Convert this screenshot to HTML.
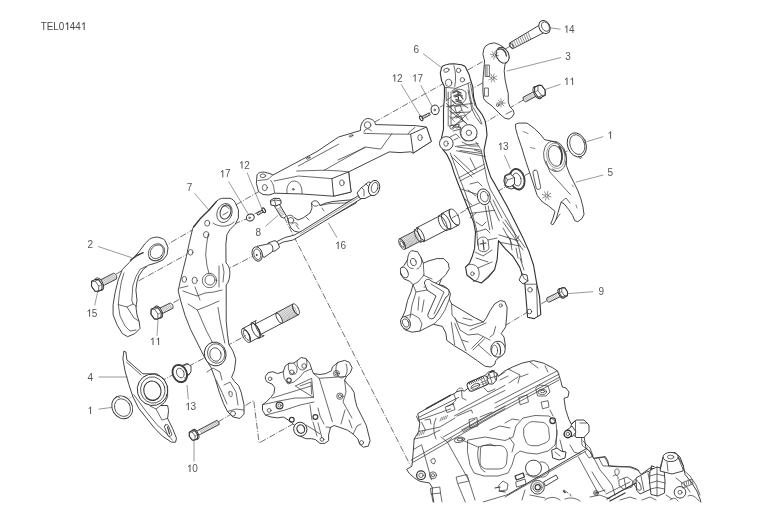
<!DOCTYPE html>
<html><head><meta charset="utf-8"><style>
html,body{margin:0;padding:0;background:#fff;width:776px;height:530px;overflow:hidden}
svg{position:absolute;left:0;top:0;filter:grayscale(1)}
.l{fill:none;stroke:#3a3a3a;stroke-width:.75;stroke-linejoin:round;stroke-linecap:round}
.f{fill:#fff;stroke:#303030;stroke-width:.9;stroke-linejoin:round}
.k{fill:#333;stroke:none}
.d{fill:none;stroke:#333;stroke-width:.7;stroke-dasharray:6.5 1.6 1 1.6}
text{opacity:.999}
.t{font-family:"Liberation Sans",sans-serif;font-size:10px;fill:#555}
.tt{font-family:"Liberation Sans",sans-serif;font-size:10.6px;fill:#4a4a4a}
.lead{fill:none;stroke:#555;stroke-width:.6}
</style></head><body>
<svg width="776" height="530" viewBox="0 0 776 530">
<g transform="translate(41.2,0) scale(0.93,1)"><text class="tt" x="-0.4" y="30">T</text><text class="tt" x="6.1" y="30">E</text><text class="tt" x="13.1" y="30">L</text><text class="tt" x="19" y="30">0</text><path d="M28.5,22.3 L28.5,30 M28.7,22.6 L26.4,24.4" style="fill:none;stroke:#4a4a4a;stroke-width:1.1"/><text class="tt" x="30.8" y="30">4</text><text class="tt" x="36.7" y="30">4</text><path d="M46.2,22.3 L46.2,30 M46.4,22.6 L44.1,24.4" style="fill:none;stroke:#4a4a4a;stroke-width:1.1"/></g>
<g id="dash" class="d">
<path d="M115.5,274.4 L265,188"/>
<path d="M138.7,280.8 L190.6,252.3"/>
<path d="M185,291 L257,254"/>
<path d="M173.4,302.7 L197.6,289 L210,282"/>
<path d="M113,407 L246,335.5"/>
<path d="M218,422 L253.7,400.5 L259.1,443 L335,400.5 L340,396.5"/>
<path d="M284,217 L410.4,465.5"/>
<path d="M234,224.1 L249.5,217.7 M254.6,213.8 L261,210.5"/>
<path d="M510.6,46 L367.6,126"/>
<path d="M492,77.5 L421,118"/>
<path d="M523.4,100 L469,131.7"/>
<path d="M586,140 L452,218"/>
<path d="M547,300.5 L506,325"/>
</g>

<g id="frame">
<path class="f" d="M257,175 C258,172.5 262,171.5 266,172.5 L271,174 L273,175 L317,151.5 L338.6,137 L360.5,130.5 C360,126 362.5,119 367.5,118.5 C372.5,118.3 375.5,122 375.4,124.6 L415,125.6 L426.4,127 L431.3,141.5 L413.2,153.1 L410.6,151.8 L400,152.6 L389.2,151.9 L348.6,171.9 L351.1,192 L333.6,196.2 L302,194 L274.5,193.2 L269,195 L263,194.5 L258.5,191.5 L256.4,183.5 Z"/>
<ellipse class="l" cx="262.9" cy="175.8" rx="2.8" ry="1.8"/>
<path class="l" d="M272.6,175.1 L269.3,178.4 L266.8,179.6 L258,180.5"/>
<path class="l" d="M270.6,180.3 C273,183 273.8,186 274.5,192.5"/>
<ellipse class="l" cx="264.8" cy="187.6" rx="2.5" ry="3.1"/>
<path class="l" d="M287,193 C286,186 289.5,181 294.5,181 C299.5,181.3 302.5,187 302,193.5"/>
<circle class="l" cx="293.2" cy="189.3" r="0.9"/>
<path class="f" d="M331.9,178.6 L348.6,171.9 L351.1,192 L333.6,196.2 Z"/>
<ellipse class="l" cx="341.9" cy="182.8" rx="2.3" ry="3"/>
<path class="l" d="M298.4,166 L338.6,144.2"/>
<path class="l" d="M324,170.4 L365.1,147 L380.7,149.1 L392,133.5"/>
<path class="l" d="M338,160 L365.1,147.6"/>
<path class="l" d="M296.7,171 L325.2,170.2 L340.3,171 L348.6,171.9"/>
<path class="l" d="M274,181 L298.4,176 L331.9,178.6"/>
<ellipse class="l" cx="308.3" cy="158" rx="1.9" ry="0.8" transform="rotate(-25 308.3 158)"/>
<ellipse class="l" cx="351.1" cy="135.9" rx="2" ry="0.8" transform="rotate(-20 351.1 135.9)"/>
<path class="l" d="M364,133.4 L392.4,134.1 L410.6,134.2"/>
<circle class="l" cx="367.6" cy="125" r="3.3"/>
<path class="l" d="M364,132 C364.5,128.5 369,127.5 371.5,131"/>
<path class="f" d="M410.6,134.2 L426.4,127 L431.3,141.5 L413.2,153.1 Z"/>
<ellipse class="l" cx="420" cy="137.6" rx="2.2" ry="3"/>
<path class="l" d="M408,134 L410.5,131 L415,127.4"/>
</g>

<clipPath id="clipE"><rect x="0" y="0" width="776" height="502.4"/></clipPath>
<g id="engine" clip-path="url(#clipE)">
<path class="f" d="M406.6,469.3 L411.9,466.3 L412.7,458 L413.4,449.6 L414.2,439 L418.7,431.5 L419.8,423 L417.7,413.7 L450.3,395.3 L453.8,393.9 L456.6,391.8 L461.6,390.4 L464.4,391.1 L467.2,389 L476,380 L484.2,376.2 L488.5,372 L492.7,371.3 L496.9,373.4 L498.4,376.2 L504.6,371 L512.6,367 L522.3,363 L533.5,360.6 L543.1,363 L552.7,367.8 L557.5,371 L559.1,375.8 L560.7,380.7 L562.4,387.1 L566,388 L569,392 L568,397 L564,398.3 L565.6,409.5 L568.8,419.1 L571.2,424 L575,421 L584,421.5 L588,426 L588,433 L584,436 L586,448.3 L590,451.5 L593.4,458.3 L598.5,457.5 L605.3,456.6 L607.8,460.9 L608.7,466 L617.2,466.8 L630.8,466.8 L637.6,469.4 L641,474.5 L650,468 L660,470 L663,461 L668,453 L675,452.5 L680,457 L683.4,466 L685.1,474.5 L691.9,483 L697,491.4 L700.4,500 L702,510 L433.8,510 L433.8,502.5 L432.3,493.4 L432.3,487.4 L429.3,482.9 L420.2,481.4 L414.9,478.3 L409.6,473.8 Z"/>
<!-- valve cover region -->
<path class="l" style="stroke-width:1.4" d="M426.2,408.7 L450.3,395.3"/>
<path class="l" d="M419.1,417.2 L458.7,397.4 M458.7,410.2 L505,385.4 M454.5,415.8 L505,390.4 M461.6,430 L505,405.9 M463,432 L505,408.5"/>
<path class="l" d="M495,403.1 L557,371 M495,407.9 L559.1,374.2 M495,411.9 L559.1,377.5"/>
<path class="l" d="M411.1,460.2 L495,412 M412.7,462.5 L495,415 M495,415 L559,380"/>
<path class="l" d="M416.4,416.1 L418.5,421.3 M418.5,420.3 L450.6,408.9 M445.5,407 L453,403.5 L455,409.5 L447.5,412.5 Z M447,406.5 L454,403.8"/>
<path class="l" d="M421.6,422.3 L425.7,430.6 M425,420 L430,419 L431,424 M436.1,418.2 C433,424 433,433 436.1,439 M443.4,436.9 L475,419.2 M456.9,416.1 L471.4,409.9 L472.5,413"/>
<path class="l" style="stroke-width:.6" d="M440,421 L441.5,417.5 M442,420.3 L443.5,416.8 M444,419.6 L445.5,416.1 M446,418.9 L447.5,415.4 M417.5,436 L418.5,433 M419.5,435.3 L420.5,432.3 M421.5,434.6 L422.5,431.6 M423.5,433.9 L424.5,430.9"/>
<path class="l" d="M418.7,431.5 L440,427 L455,418 M414.2,439 L428,436 L440,430 M413.4,449.6 L421,445"/>
<path class="l" d="M453.8,393.9 L456,400 L452,404 M461.6,390.4 L462,398 L466,400 M456.6,391.8 C457,388 461,387 463,389"/>
<rect class="f" style="stroke-width:1" x="467.0" y="378.8" width="22" height="9.4" rx="3.5" transform="rotate(-24 478.0 383.5)"/>
<path class="l" style="stroke-width:.9;stroke:#222" d="M468.8,382.6 L469.9,384.3 M470.6,381.8 L471.6,383.5 M472.3,381.0 L473.4,382.7 M474.0,380.2 L475.1,381.9 M475.8,379.5 L476.9,381.2 M477.5,378.7 L478.6,380.4 M479.2,377.9 L480.3,379.6 M481.0,377.1 L482.1,378.8 M482.7,376.4 L483.8,378.1"/>
<ellipse class="l" cx="475.4" cy="386.3" rx="4.8" ry="2.3" transform="rotate(-24 475.4 386.3)"/>
<path class="l" d="M472.2,387.7 L478.6,384.9"/>
<path class="l" style="stroke-width:.6" d="M481.1,379.4 L483.9,385.6 M483.8,378.2 L486.6,384.4 M480.9,382.7 L487.8,379.7 M481.8,384.6 L488.6,381.5"/>
<path class="f" style="stroke-width:.9" d="M487,379 L489,373 L493.5,371.5 L497,373.5 L496.5,380 L493,384 L489,384 Z"/>
<path class="l" d="M489.5,374.5 L492,383 M493.5,371.5 L495.5,380 M488,378.5 L497,376"/>
<path class="l" style="stroke-width:1.1" d="M490.5,372 L492,370.5 L494.5,371"/>
<path class="l" d="M484.2,388 L488,392 L495,389 M498.4,376.2 L505,372"/>
<path class="l" d="M508.3,369.1 L520,375 L518,383 M530,362 L538,368 M520,377 L528,374 M545,366 L548,372"/>
<path class="l" d="M509,383 L518,377 M500,380 L508,376"/>
<!-- head region -->
<path class="l" d="M421.7,445.1 L431.5,479.8 M447.4,442.1 L468.5,479.8 M441,437 L447.4,442.1 L452,438"/>
<path class="l" d="M462,440 L478,447 L490,444 L495,446 M478.6,447.3 C476,455 479,470 485,472"/>
<ellipse class="l" cx="459.5" cy="439.8" rx="5.2" ry="2.6" transform="rotate(-10 459.5 439.8)"/>
<ellipse class="l" cx="460" cy="439.5" rx="3" ry="1.3" transform="rotate(-10 460 439.5)"/>
<circle class="l" style="stroke-width:1.3" cx="421" cy="475.3" r="4.4"/>
<circle class="l" cx="421" cy="475.3" r="2.2"/>
<circle class="l" cx="433" cy="475.3" r="3.5"/>
<circle class="l" cx="433" cy="475.3" r="1.6"/>
<path class="l" d="M431,460 L434,458 L435.5,461 L434,464 L432,463 Z"/>
<path class="l" d="M430.8,488.2 L439.8,487 L440.5,493 L431.5,494 Z M431.5,494 L433,502 M440.5,493 L442,502"/>
<path class="l" d="M456.5,477 L467,474.5 L469,481 L458,483.5 Z M458,484.4 L465.5,502.5 M469,481 L475,500"/>
<path class="l" d="M469,420 L470,428 L478,426 L477,418 Z M480,417 L492,412"/>
<!-- ports -->
<path class="l" d="M480.6,448 C481,446 483,445 486,445.5 L500,445.5 C505,446 507.5,450 507.3,455 L506.5,463 C505.5,467.5 502,469 498,469 L487,469 C483,469 480,466 480,462 Z"/>
<path class="l" d="M523.9,428 C527,423 530,421.6 533.5,421.6 L543.1,422.4 C547,424 548.7,427 548.7,429.6 L549.5,437.6 C549,440 548,441.5 546.3,442.5 L538.3,445.7 L531.9,445.7 C528,445 526.5,443.5 526.3,442.5 L523.9,436 Z"/>
<path class="l" d="M468,440 L485,437 L505,440.5 L513,437 L516,426 L523,418 L535,415.5 L549,416 L556,422 L557,434 L555,445 L548,451 L537,454 L527,453 L520,451 L515,455 L512,465 L508,473 L498,476 L484,476 L474,473 L470,465 L467.5,452 Z"/>
<path class="l" d="M509.4,437.6 L514.2,444.1 L512,452 M505,423 L512,419 L519,420 M490,430 L500,426 L510,428"/>
<path class="l" d="M519,397.5 L527,395 L528.5,402 L520.5,404.7 Z M541.5,402 L548,400.7 L549,407 L543,408.7 Z"/>
<ellipse class="l" cx="542.3" cy="391.9" rx="4.3" ry="2.6"/>
<ellipse class="l" cx="542.5" cy="391.5" rx="2.3" ry="1.2"/>
<path class="l" d="M536,388 L540,385 L548,386 L550,392 L546,396 L538,396 Z"/>
<circle class="l" style="stroke-width:1.3" cx="552.7" cy="420.7" r="2.8"/>
<path class="l" d="M550,410 L553,416 M557,430 L556,448 M560,440 L563,452"/>
<!-- hex plug -->
<path class="f" d="M571,425 L576,420 L584,420 L589,425 L589,432 L584,437.5 L576,437.5 L571,432 Z"/>
<path class="l" d="M575.5,421 L575.5,436.5 M580,423 L587,423"/>
<path class="f" d="M566,431 L572,426 L576,432 L572,437 Z"/>
<circle class="f" style="stroke-width:1.4" cx="567.8" cy="434" r="3.7"/>
<circle class="l" cx="567.8" cy="434" r="1.7"/>
<path class="l" d="M581.6,438 L582,445 L586.4,448.9 M583,441 L590,448 L593,456 L589,458 L585,452"/>
<path class="l" d="M578.4,456.9 L597.6,492.2 M570,445 L574,452 L580,454"/>
<!-- lower middle -->
<path class="l" style="stroke-width:1" d="M507.8,494.6 L587.2,448.1"/>
<path class="l" d="M505,497 L586,451 M483,502 L507.8,494.6"/>
<circle class="f" cx="533.5" cy="468.1" r="8"/>
<path class="l" d="M540,462 C545,461 549,465 549,470 C549,475 545,478 541,477"/>
<path class="l" d="M526,474 L532,477 L540,477"/>
<circle class="f" cx="537.5" cy="487.3" r="6.8"/>
<circle class="l" cx="537.5" cy="487.3" r="4.6"/>
<circle class="l" style="stroke-width:1.2" cx="537.7" cy="487.2" r="2.6"/>
<path class="f" d="M543.5,482 L556,475 L558,478.5 L545.5,486 Z"/>
<path class="l" d="M530,495 L545,498 M525,490 L522,500"/>
<path class="l" style="stroke-width:1.3" d="M515,476 L523,473 L524.5,477 L516.5,480 Z"/>
<path class="l" d="M516,482 L525,479 L526,484 L517,487 Z"/>
<path class="l" style="stroke-width:1" d="M552,450 L557,448 L561,451 L566,452 L565,458 L559,460 L553,458 Z"/>
<path class="l" d="M555,452 L560,456 M499,485 L503,481 L508,484 L507,490 L500,491 Z"/>
<path class="l" style="stroke-width:1.2" d="M495,488 L500,487 M499,491 L505,492"/>
<path class="l" d="M564,490 L568,493 M570,494 L571,496"/>
<path class="l" style="stroke-width:1.5" d="M563.5,491 L565,492.5"/>
<circle class="l" cx="596" cy="493" r="2.4"/>
<path class="l" d="M545,500 C550,496 556,497 560,500 M565,499 C570,497 576,498 580,501 M590,497 L600,495 L610,499"/>
<!-- lower right -->
<path class="l" d="M590,451.5 L596,462 L600,470 L606,477 L612,485 L615,495 M598.5,457.5 L603,466 L608.7,466"/>
<path class="l" d="M615,470 C617,468 620,469 619,473 C618,476 615,476 615,473 Z M613,476 C615,474 619,475 618,479"/>
<path class="l" d="M594.7,458.5 L604.5,457.2 L609.4,465.8 L629,467 L638.8,470.7 M606,494 L620,487 L630,482 M592,472 L600,485 L605,492"/>
<path class="l" d="M619.2,480 L627,477 L632.7,481 L632,487 L624,489.5 L619.5,486 Z M624,478 L626,488"/>
<path class="l" style="stroke-width:1.4" d="M607,499 L623,490 L636,483 M610,501 L625,493"/>
<circle class="l" cx="596" cy="493" r="1.2"/>
<path class="l" d="M596,493 L605,490"/>
<path class="f" d="M636,478 L648,471 L653,476 L655,484 L651,489 L640,494 L636.5,490 Z"/>
<ellipse class="l" cx="637.5" cy="485" rx="2.6" ry="6" transform="rotate(-30 637.5 485)"/>
<path class="l" d="M641,476 L644,491 M648,473 L651,488"/>
<path class="f" d="M650,470 L657,467 L664,469 L665,481 L664.5,493 L658,496 L651,494.5 L649.5,482 Z"/>
<path class="l" d="M650,476 L657,474 L664.5,476 M650,483 L657,481 L665,483 M650.5,489 L657,487.5 L664.5,489 M657,467 L657,496"/>
<path class="l" style="stroke-width:1.2" d="M651,470 L651.5,466 L654,466.5"/>
<path class="f" d="M663,457 L678.3,457 L683.4,466 L683,471 L672,474 L660,471 Z"/>
<ellipse class="f" cx="670.6" cy="457" rx="7.6" ry="4.6"/>
<ellipse class="l" cx="670.6" cy="457" rx="3.2" ry="1.9"/>
<path class="l" d="M663,458 L660,468 M678.3,458 L683,469 M667,462 L668,471"/>
<path class="l" d="M683.4,470 L690,476 L696,485 L700,495 M676,478 L686,486 L690,492"/>
<circle class="f" cx="680" cy="492.3" r="5.8"/>
<circle class="l" cx="680" cy="492.3" r="2"/>
<path class="l" style="stroke-width:.6" d="M681.7,483 L691.9,479 L693,484 L683,488 Z M684,482 L685,487 M686,481 L687,486 M688,480 L689,485 M690,479.5 L691,484.5"/>
<path class="l" d="M666,495 L672,499 M670,500 C673,497 676,498 678,501 M688,496 C692,494 696,497 699,501"/>
<path class="l" d="M642,500 L650,497 L656,500 M620,500 L630,497 L636,499"/>
</g>

<g id="p6">
<path class="f" style="stroke-width:1.1" d="M441.6,67.5 C443,65 447,64 453.9,63.8 L461.4,64.7 C464,65.5 466,67 466.1,68.5 L469,74.2 L470.8,80.8 L472.7,86.4 L473.7,97.7 L476.5,107.2 L482.2,114.7 L485,120.4 L486.3,127.5 L487,135.1 L485.5,142.6 L484,150.2 L484.8,157.7 L487.8,168.3 L490.8,177.3 L495.3,184.9 L500.3,194.1 L507.9,207.7 L515.4,222.8 L523,237.9 L529,251.5 L533.5,265 L536.8,284.2 L539.5,296.1 L540.8,314.6 L534.2,318.6 L527.6,317.2 L524.9,284.2 L522.3,275 L519.7,267.1 L513.1,256.5 L505.1,248.6 L498.5,240.7 L497.2,259.2 L494.6,269.7 L488,277.6 L481.4,282.9 L473.5,280.3 L466.9,275 L465.6,267.1 L469.5,263.1 L472.2,256.5 L474.6,248.4 L475.5,232 L473.7,222.4 L467.6,207.3 L461.6,192.2 L457.5,182 L454,172.6 L451,163 L447,154.7 L443.3,150.2 L440.3,144.1 L441.8,136.6 L443.5,129 L443.5,120.4 L443.5,109.1 L444.4,97.7 L444.4,86.4 L441.6,80.8 L440.3,73.2 Z"/>
<!-- top lobes -->
<path class="l" d="M453.9,65.7 C456,72 456,80 454.8,86.4"/>
<path class="l" d="M445.4,87.4 L455.8,88.3 L469.9,82.6"/>
<ellipse class="l" cx="448.6" cy="82.8" rx="3.3" ry="3.6"/>
<ellipse class="l" cx="446.4" cy="70.2" rx="2.8" ry="1.9" transform="rotate(-20 446.4 70.2)"/>
<circle class="l" cx="458.6" cy="70.4" r="2.2"/>
<circle class="l" cx="462.4" cy="79.8" r="2.2"/>
<!-- upper truss -->
<path class="l" d="M448.2,92 L448.2,126 M451,92 L451,124 M468,90.2 L471.8,109 L475.6,116.6 L481,124"/>
<path class="l" d="M446.3,103.4 L467.1,124.2 M472.7,109 L452,127.9 M451,113 L470,112"/>
<path class="l" style="stroke-width:1.2" d="M453,93 L457,91 L461,93 M455,97 L460,95 L463,99 M456,101 L462,103 M458,92 L458.5,100"/>
<path class="l" d="M452,91 L455,89 L462,89.5 L466,92 L466,99 L462,104 L456,104 L452,100 M451,97 L446,101 M462,104 L468,108 M454,104 L449,108"/>
<path class="l" d="M455,107 L460,105 L462,110 L457,113 Z M456,118 L461,116 L463,121 L458,123"/>
<path class="l" d="M468,83.4 L470.2,96.3 L472.4,106.4 L476,112.1 L479.5,117.8 L482,124"/>
<path class="l" style="stroke:#666;stroke-width:1.6" d="M453,92 L457,90.5 M454,96 L459,94 L462,96 M456,99.5 L461,101 M452.5,101 L455,103"/>
<path class="l" d="M446.6,106.4 L472.4,103.5 M449.5,110.7 L466.7,123.5 M452.3,119.2 L460.9,112.1"/>
<path class="l" d="M460.5,127 C459,133 461,139 466,141.5 M472,141 L477,137"/>
<circle class="l" cx="452" cy="127" r="2.2"/>
<circle class="l" cx="457" cy="126" r="2"/>
<path class="l" d="M455.2,146.5 L478.1,143.6 M456.6,150.8 L485.3,156.5 M450,137 L456,134 L460,138"/>
<circle class="f" cx="468.9" cy="132.8" r="8.2"/>
<circle class="l" cx="468.9" cy="132.8" r="2.7"/>
<path class="l" d="M461,128 L456,126 M458,138 L454,140"/>
<circle class="f" cx="446.3" cy="143.4" r="6.8"/>
<ellipse class="l" cx="446" cy="143.6" rx="2.2" ry="2.7"/>
<!-- middle truss -->
<path class="l" d="M450.3,153 L458.6,175.6 L466.1,195.2 L472.1,213.3 L476.7,230"/>
<path class="l" d="M481.2,150 L484.2,165.1 L487.2,180.2 L490.2,189.2 L496.3,199.8 L502.3,210.3 L508.3,220.9 L514,232"/>
<path class="l" d="M458.6,177.9 L484.2,164.3 M460,181 L485,168"/>
<path class="l" d="M451,156 L472.1,177.1 M454,155 L474,174"/>
<path class="l" d="M461.6,189.2 L479.7,195.2 M466.1,208.8 L479.7,202.8 M470.6,213.3 L494.8,210.3 M490.2,201.3 L499.3,220.9 M493,200 L502,218"/>
<path class="l" d="M457.6,147.1 L481,150 M460,150.5 L481.5,153.5"/>
<path class="l" d="M476,142 L480,148 M470,158 L476,170"/>
<path class="l" d="M446,88 L446.3,100 M470.5,84 L473,98 L475,106"/>
<path class="l" style="stroke:#555;stroke-width:.6" d="M452,106 L466,106 M450,118 L466,115 M462,110 L468,120 M455,122 L449,116"/>
<path class="l" d="M449.5,126 L459.5,124 M453,131 L461,129 M462,142 L470,146 L478,146"/>
<path class="l" d="M474.5,150 L481,152 M470,184 L478,182 L482,186 M468,190 L476,196"/>
<path class="l" d="M465,199 L472,205 M470,218 L476,213 M503,228 L508,237 M508,236 L512,244 M516,240 L519,236"/>
<!-- ring -->
<ellipse class="f" cx="483.8" cy="196.8" rx="6.3" ry="8" transform="rotate(-15 483.8 196.8)"/>
<ellipse class="l" cx="484.3" cy="196.6" rx="3.9" ry="5.3" transform="rotate(-15 484.3 196.6)"/>
<!-- lower arms -->
<path class="l" d="M476.7,230 L477.7,245.4 M514,232 L518.4,245 L522,262"/>
<path class="l" d="M503,222 L523,250 M505,220 L525,247.5"/>
<path class="l" d="M498.8,234.8 L518.4,240.9 M500.3,242.4 L520,246"/>
<path class="l" d="M485.2,206.1 L489.7,230 M488.2,206 L492.5,229"/>
<path class="l" d="M476,222 L482,226 L486,222"/>
<path class="l" d="M478,240 C480,236 486,236 488,240 L489,248 C488,252 482,253 479,250 Z"/>
<path class="l" style="stroke-width:1.1" d="M480,244 L486,243 M483,240 L484,250"/>
<path class="l" d="M488,240 L497,238 M476,232 L486,229 L490,233"/>
<path class="l" d="M475,252 L483,256 L492,250 M476,258 L488,262"/>
<path class="l" d="M510,238 L512,250 M516,248 L518,258 M520,258 L524,270"/>
<path class="l" d="M465.6,267.1 C468,263 475,263.5 478,268 C480.5,273 479,281 473.5,281.5"/>
<circle class="l" cx="472.4" cy="273.7" r="1.8"/>
<path class="l" d="M478,268 L492,262 M481.4,282.9 L494.6,269.7"/>
<path class="l" d="M524.9,284.2 L536.8,284.2"/>
<path class="f" d="M519,280 L522,274 L527,275 L528,281 L523,284 Z"/>
<path class="l" d="M522,274 L524.5,279 L528,281"/>
<circle class="l" cx="530" cy="289.8" r="2.3"/>
<circle class="l" cx="529.4" cy="311.5" r="2.3"/>
<path class="l" d="M536.6,286 L537.5,316"/>
</g>

<g id="p3">
<path class="f" d="M485.4,46.2 L489.5,43.7 L494.4,42.9 L499.3,44.6 L504.2,47.8 L508.3,52.8 L509.1,57.7 L507.5,61.8 L505,64.2 L504.2,70.8 L505,79 L506.7,87.2 L508.3,93.7 L508.3,101.9 L510,106.9 L513.2,110.1 L514.1,113.4 L512.4,116.7 L509.1,119.1 L505,118.3 L501,115 L496,110.1 L491.1,105.2 L486.2,101.9 L483.7,98.7 L482.9,92.1 L482.9,80.6 L483.7,70.8 L484.6,61 L482.9,54.4 L483.7,49.5 Z"/>
<ellipse class="f" cx="502.6" cy="55.2" rx="6" ry="8.3" transform="rotate(-25 502.6 55.2)"/>
<path class="l" style="stroke-width:1.3" d="M498,49.5 C502,47.5 506,51 506.5,56"/>
<rect class="l" x="485.6" y="65" width="3.8" height="11.5"/>
<path class="l" d="M487,66 L487,76"/>
<rect class="l" x="484.8" y="88" width="3.6" height="8.2"/>
<circle class="l" style="stroke-width:.6" cx="494.5" cy="55.0" r="1.2"/><path class="l" style="stroke-width:.55" d="M496.3,55.3 L498.6,55.7 M495.5,56.5 L496.9,58.4 M494.2,56.8 L493.8,59.1 M493.0,56.0 L491.1,57.4 M492.7,54.7 L490.4,54.3 M493.5,53.5 L492.1,51.6 M494.8,53.2 L495.2,50.9 M496.0,54.0 L497.9,52.6"/>
<circle class="l" style="stroke-width:.6" cx="492.8" cy="78.0" r="1.3"/><path class="l" style="stroke-width:.55" d="M494.6,78.6 L496.9,79.5 M493.6,79.7 L494.7,82.0 M492.2,79.8 L491.3,82.1 M491.1,78.8 L488.8,79.9 M491.0,77.4 L488.7,76.5 M492.0,76.3 L490.9,74.0 M493.4,76.2 L494.3,73.9 M494.5,77.2 L496.8,76.1"/>
<circle class="l" style="stroke-width:.6" cx="501.0" cy="103.0" r="1.2"/><path class="l" style="stroke-width:.55" d="M502.8,103.0 L505.2,103.0 M502.3,104.3 L504.0,106.0 M501.0,104.8 L501.0,107.2 M499.7,104.3 L498.0,106.0 M499.2,103.0 L496.8,103.0 M499.7,101.7 L498.0,100.0 M501.0,101.2 L501.0,98.8 M502.3,101.7 L504.0,100.0"/>
<circle class="l" cx="497.7" cy="105.2" r="1.3"/>
<path class="l" d="M506,114 L512,111"/>
</g>
<g id="b14">
<path class="f" d="M538.8,25.5 L509.8,42.9 Q509,46.5 512.7,48.7 L543.6,32.8 Z"/>
<path class="l" style="stroke-width:.55" d="M512,42 L514.5,47.4 M514,40.8 L516.5,46.3 M516,39.6 L518.5,45.2 M518,38.4 L520.5,44.1 M520,37.2 L522.5,43 M522,36 L524.5,41.9 M524,34.8 L526.5,40.8 M526,33.6 L528.5,39.7 M528,32.4 L530.5,38.6"/>
<ellipse class="l" cx="511.3" cy="45.8" rx="1.5" ry="2.9" transform="rotate(-30 511.3 45.8)"/>
<ellipse class="f" cx="544.5" cy="27" rx="5.3" ry="6.9" transform="rotate(-30 544.5 27)"/>
<ellipse class="l" cx="545.5" cy="26.6" rx="3.6" ry="5" transform="rotate(-30 545.5 26.6)"/>
</g>
<path class="f" d="M536.6,90.1 L523.1,97.3 Q522.3,100.7 525.5,101.9 L539.1,94.7 Z"/>
<path class="l" style="stroke-width:.45;stroke:#555" d="M531,93.3 L534.3,97 M529.9,93.9 L533.2,97.6 M528.7,94.5 L532.1,98.2 M527.6,95.1 L531,98.8 M526.5,95.7 L529.8,99.4 M525.4,96.3 L528.7,100 M524.3,96.9 L527.6,100.6 M523.2,97.5 L526.5,101.1"/>
<ellipse class="f" cx="537.4" cy="92.6" rx="3.6" ry="6.7" transform="rotate(151.9 537.4 92.6)"/>
<path class="f" style="stroke-width:1.05" d="M534.6,92.3 L534.7,87.3 L538,85.5 L541.6,85.4 L545.2,90.3 L545.2,95.3 L541.9,97 L538.2,97.2 Z"/>
<path class="l" d="M538,85.5 L537.9,90.5 L541.5,95.4 L545.2,95.3 L545.2,90.3 L541.6,85.4 Z"/>
<path class="l" style="stroke-width:.6" d="M538,85.5 L534.7,87.3 M537.9,90.5 L534.6,92.3 M541.5,95.4 L538.2,97.2"/>
<path d="M566.9,25.5 L566.9,32.8 M567.1,25.8 L564.9,27.5" style="fill:none;stroke:#555;stroke-width:1"/><text class="t" x="569.1" y="32.8">4</text>
<path class="lead" d="M550.4,27.9 L560.6,29.2"/>
<text class="t" x="565.2" y="59.8">3</text>
<path class="lead" d="M506.7,71.1 L561,57.5"/>
<path d="M567,77.8 L567,85 M567.2,78 L565,79.7" style="fill:none;stroke:#555;stroke-width:1"/><path d="M572.6,77.8 L572.6,85 M572.8,78 L570.6,79.7" style="fill:none;stroke:#555;stroke-width:1"/>
<path class="lead" d="M544.7,89.7 L560.6,84.2"/>
<g id="p5">
<path class="f" d="M515.6,124.1 L518.7,123.1 L527,123.1 L534.2,128.3 L540.5,134.5 L544.6,139.7 L549.8,140.7 L557.1,142.8 L563.3,149 L566.4,157.3 L566.4,165.6 L569.5,173.9 L573.7,182.2 L577.8,190.5 L580.9,198.8 L583,207.1 L584,214.4 L582,218.5 L577.8,221.7 L574.7,220.6 L572.6,215.4 L568.5,209.2 L564.3,204 L561.2,202 L560.2,205.1 L558.1,212.3 L556,219.6 L552.9,224.8 L550.8,223.7 L552.9,218.5 L555,211.3 L548.8,206.1 L542.5,202 L537.3,195.7 L534.2,186.4 L530.1,173.9 L525.9,161.5 L521.8,148 L517.6,135.6 L515.6,128.3 Z"/>
<ellipse class="l" cx="555" cy="156.3" rx="11.2" ry="15.4" transform="rotate(-12 555 156.3)"/>
<ellipse class="l" style="stroke-width:.6;stroke:#666" cx="555.8" cy="155.8" rx="9" ry="12.8" transform="rotate(-12 555.8 155.8)"/>
<ellipse class="l" cx="555.3" cy="155.8" rx="6.8" ry="10.6" transform="rotate(-12 555.3 155.8)"/>
<path class="l" style="stroke-width:1.5" d="M559,146.5 C562.5,150 563,158 560.5,164"/>
<path class="l" d="M546,161 L549.8,171.9 L570.5,194.7 M552.5,169 L556,171"/>
<rect class="l" x="534.5" y="170" width="4.6" height="19.5" rx="2.2" transform="rotate(-12 536.8 179.8)"/>
<circle class="l" style="stroke-width:.6" cx="546.7" cy="195.7" r="1.4"/><path class="l" style="stroke-width:.55" d="M548.6,196.2 L551.1,196.9 M547.7,197.4 L549.0,199.7 M546.2,197.6 L545.5,200.1 M545.0,196.7 L542.7,198.0 M544.8,195.2 L542.3,194.5 M545.7,194.0 L544.4,191.7 M547.2,193.8 L547.9,191.3 M548.4,194.7 L550.7,193.4"/>
<path class="l" style="stroke-width:.6" d="M523,131.5 L528,133.5 M530.5,147.5 L535,148.5 M576,205 L577,208 M572,185 L573.5,187"/>
<path class="l" d="M561.2,202 L566,198 L570,203 M556,219.6 L560,214"/>
</g>
<g id="ring1r">
<ellipse class="f" cx="576.8" cy="144.9" rx="9.2" ry="12.4" transform="rotate(-20 576.8 144.9)"/>
<ellipse class="l" cx="577.3" cy="144.6" rx="7.2" ry="10.2" transform="rotate(-20 577.3 144.6)"/>
<path class="l" d="M578.5,156.5 L579.9,158.5 L582,157.5"/>
</g>
<g id="b13r">
<path class="f" d="M505,175.5 L511,172.5 L516,173.5 L519,181 L517,187.5 L511,189 L506,187 L503.8,181 Z"/>
<path class="l" d="M506,177 L510,176.5 L512.5,182 L510,186.5 L506,186 M510,176.5 L515,175.5 M512.5,182 L517.5,181.5"/>
<ellipse class="f" cx="517.3" cy="179.2" rx="6.6" ry="10" transform="rotate(-15 517.3 179.2)"/>
<ellipse class="l" style="stroke-width:1.3" cx="517.3" cy="179.2" rx="7.4" ry="10.7" transform="rotate(-15 517.3 179.2)"/>
<ellipse class="l" cx="516.8" cy="179.5" rx="4.2" ry="6.5" transform="rotate(-15 516.8 179.5)"/>
<path class="f" d="M505,176 L510.5,174 L514.5,177.5 L514.5,184 L510,187 L505,185.5 Z"/>
<path class="l" d="M505,176 L507.5,180 L505,185.5 M507.5,180 L514.5,177.5"/>
</g>
<path d="M500.9,142.8 L500.9,150.1 M501.1,143.1 L498.9,144.8" style="fill:none;stroke:#555;stroke-width:1"/><text class="t" x="503.1" y="150.1">3</text>
<path class="lead" d="M504.4,155 L510.4,168.8"/>
<path d="M610.6,131.6 L610.6,138.8 M610.8,131.8 L608.6,133.5" style="fill:none;stroke:#555;stroke-width:1"/>
<path class="lead" d="M586.3,141.8 L603.3,136.6"/>
<text class="t" x="607.4" y="176.2">5</text>
<path class="lead" d="M575.7,182.2 L603.3,175"/>
<g id="p7">
<path class="f" d="M192.7,228.4 L199.9,219.1 L209.3,209.7 L216.5,201.4 C219,199 221,198.3 222.8,198.3 L230,198.3 C232.5,199 234,200.5 235.2,202.5 L238.4,209.7 L238.4,218 L235.2,224.3 L230,229.5 L226.9,234.7 L225.9,244 L226,263 C229.5,266 230.5,271 229.5,277 C229,281 227.5,283.5 226.2,285 L226.2,307.4 L226.2,321.1 L227.5,334.8 L228.9,344.4 L233,351.2 L235.8,359.5 L234.4,370.4 L231.6,377.3 L234.4,381.4 L238.5,385.5 L241.2,392.3 L244,404.7 L244,414.2 L239.9,418.4 L233,417 L227.5,411.5 L223.4,403.3 L219.3,392.3 L215.2,378.6 L211.1,367.7 L204.2,356.7 L197.4,343 L190.5,329.3 L185.1,315.6 L181,301.9 L178.2,291 L180.2,281.4 L183.3,268.9 L186.4,256.5 L189.5,241.9 Z"/>
<path class="l" style="stroke-width:1.4" d="M193.5,227 L199.9,219.1 L209.3,209.7 L216.5,201.4"/>
<ellipse class="l" cx="224.5" cy="213" rx="7.4" ry="9.8" transform="rotate(20 224.5 213)"/>
<ellipse class="l" style="stroke-width:1" cx="225.5" cy="212" rx="5.2" ry="7.2" transform="rotate(20 225.5 212)"/>
<path class="l" d="M213,223 C218,227 228,228 234,222"/>
<path class="l" d="M222,207 C224,205 228,206 229,209 M223,215 L228,212"/>
<ellipse class="l" cx="207.2" cy="223.2" rx="2.5" ry="3"/>
<ellipse class="l" cx="206.2" cy="234.7" rx="2.7" ry="3.2"/>
<ellipse class="l" cx="190.6" cy="252.3" rx="2.4" ry="2.8"/>
<ellipse class="l" cx="184.3" cy="279.3" rx="2.3" ry="3"/>
<ellipse class="l" cx="194.7" cy="280.4" rx="2.6" ry="3.3"/>
<circle class="l" cx="209.5" cy="280.5" r="7.2"/>
<circle class="l" cx="210" cy="280" r="5"/>
<path class="l" d="M208.2,234.4 L206.5,245 L205.7,255 L207,266 L209,273.5 M219,266 L219,287 M222.5,264 L224,272 L223,282"/>
<path class="l" d="M183,291 L197,296 L205,293 L214,292 L222,290 M188,304 L197.4,310 L210,305 L219,301 M197.4,310.1 L206,330 L213.8,345 M218,307.4 L220,320 L224.8,343"/>
<path class="l" d="M180,288 L188,286 M195,287 L200,300"/>
<ellipse class="f" cx="215.2" cy="354" rx="10.8" ry="12" transform="rotate(-15 215.2 354)"/>
<ellipse class="l" cx="216.2" cy="353.5" rx="8.6" ry="9.8" transform="rotate(-15 216.2 353.5)"/>
<ellipse class="l" cx="215.5" cy="354.5" rx="5.6" ry="6.8" transform="rotate(-15 215.5 354.5)"/>
<path class="l" d="M207,372 L213,368 L220,372 L222,380 M216,380 L222,392.3 L227,404 M224,385 L230,382 L236,392 L238,405 M229,392 C231,390 233,392 232,396 C231,398 228,396 229,392 Z"/>
<circle class="l" cx="233" cy="413.6" r="2.5"/>
<path class="l" d="M227.5,411.5 L236,409 L243.5,410"/>
</g>

<g id="p2">
<path class="f" d="M149.4,239.3 C152,237.5 155,237 157.7,237.2 C161,237.8 163.5,238.8 164.9,240.3 L168,247.6 L167,254.8 L162.9,260 L155.6,263.1 L148.4,265.2 L143.2,269.3 L139,275.5 L137,281.8 L135.9,290.1 L137,300.4 L135.9,306.6 L137,314.9 L139,321.2 L140.1,328.4 L134.9,333.6 L127.6,336.7 L122.4,333.6 L117.3,325.3 L113.1,314.9 L113.1,304.6 L115.2,292.1 L118.3,279.7 L122.4,269.3 L129.7,262.1 L139,251.7 L145.2,243.4 Z"/>
<ellipse class="l" cx="156.5" cy="252.2" rx="7.6" ry="9" transform="rotate(40 156.5 252.2)"/>
<ellipse class="l" cx="156.8" cy="251.8" rx="6" ry="7.4" transform="rotate(40 156.8 251.8)"/>
<path class="l" d="M149,258 C152,262 158,262 162,258"/>
<path class="l" style="stroke-width:1.4" d="M130.7,260 L137,255.5 L143.2,252.7"/>
<path class="l" d="M146.3,266.2 L140.1,269.3 L135.9,276.6 L132.8,285.9 L131.8,300.4 L133,304 L137,306.6"/>
<path class="l" d="M124,273 L121.4,281.8 L119.3,294.2 L118.3,304.6 L120,316 L125,326 L130,331 L136,330"/>
<path class="l" d="M118.3,304.6 L127,307 L133,304 M127,307 L134,318 L139,321.2"/>
</g>
<g id="p4">
<path class="f" d="M123.9,351 L125.9,352 L126.9,359.9 L134.8,366.8 L142.8,373.8 L148.7,373.8 L156.7,373.8 L163.6,378.7 L167.6,386.7 L167.6,396.6 L164.6,402.5 L160.6,405.5 L167.6,405.5 L168.6,410.5 L167.6,418.4 L172.5,428.3 L176.5,438.3 L175.5,442.2 L171.5,442.2 L162.6,436.3 L154.7,428.3 L146.7,418.4 L138.8,408.5 L132.9,396.6 L128.9,384.7 L125,370.8 L122.9,358.9 Z"/>
<path class="l" d="M126.5,362 L141,375 M133.8,394.6 L145,410 L156.7,424.4 L165,432 L172.5,440.2"/>
<ellipse class="f" cx="152.5" cy="389.8" rx="15.2" ry="15.8" transform="rotate(-15 152.5 389.8)"/>
<ellipse class="l" cx="152.8" cy="390" rx="12.2" ry="13.2" transform="rotate(-15 152.8 390)"/>
<ellipse class="l" style="stroke-width:1.1" cx="152.4" cy="390.7" rx="8.6" ry="9.8" transform="rotate(-15 152.4 390.7)"/>
<path class="l" d="M146,398 C149,401 156,401 159,397"/>
<path class="l" d="M160.6,405.5 L156,409 L150,406 M156,409 L162,420 L167.6,418.4"/>
<rect class="l" x="166" y="424.5" width="4.2" height="12" rx="1.5" transform="rotate(-22 168 430.5)"/>
<path class="l" style="stroke-width:1.1" d="M167.5,427 L169.5,434"/>
</g>
<g id="ring1l">
<ellipse class="f" cx="122.2" cy="407.3" rx="10" ry="11.8" transform="rotate(-30 122.2 407.3)"/>
<ellipse class="l" cx="122.5" cy="407.6" rx="7.6" ry="9.2" transform="rotate(-30 122.5 407.6)"/>
<path class="l" d="M115,398 L117,396.5 L119.5,397.5"/>
</g>
<g id="b13l">
<path class="f" d="M181,366 L187,363.5 L191,366 L191,372 L188,375 L182,376 Z"/>
<ellipse class="f" cx="179.8" cy="373.5" rx="6.5" ry="8.5" transform="rotate(-25 179.8 373.5)"/>
<ellipse class="l" style="stroke-width:1.3" cx="179.8" cy="373.5" rx="7.2" ry="9.2" transform="rotate(-25 179.8 373.5)"/>
<ellipse class="l" cx="180.3" cy="373" rx="3.6" ry="5" transform="rotate(-25 180.3 373)"/>
<path class="l" d="M183,366 L188,364 M184.5,378 L190,374"/>
</g>
<path class="f" d="M100.3,287.2 L116.5,279 Q117.6,274.8 113.6,273.2 L97.4,281.5 Z"/>
<path class="l" style="stroke-width:.45;stroke:#555" d="M105.7,284.2 L102,279.4 M106.9,283.6 L103.1,278.8 M108.1,283 L104.3,278.2 M109.3,282.4 L105.5,277.6 M110.5,281.8 L106.7,277 M111.6,281.2 L107.8,276.4 M112.8,280.6 L109,275.8 M114,280 L110.2,275.2 M115.2,279.4 L111.4,274.6 M116.3,278.8 L112.6,274"/>
<ellipse class="f" cx="99.3" cy="284.1" rx="3.6" ry="6.7" transform="rotate(-27 99.3 284.1)"/>
<path class="f" style="stroke-width:1.05" d="M91.5,286.3 L91.6,281.3 L94.9,279.6 L98.6,279.6 L102.1,284.5 L102,289.5 L98.6,291.2 L95,291.3 Z"/>
<path class="l" d="M98.6,291.2 L98.8,286.2 L95.3,281.3 L91.6,281.3 L91.5,286.3 L95,291.3 Z"/>
<path class="l" style="stroke-width:.6" d="M98.6,291.2 L102,289.5 M98.8,286.2 L102.1,284.5 M95.3,281.3 L98.6,279.6"/>
<path class="f" d="M159.4,315 L172.8,308.4 Q173.9,304.5 170.2,303 L156.8,309.6 Z"/>
<path class="l" style="stroke-width:.45;stroke:#555" d="M165.1,312 L161.5,307.5 M166.3,311.4 L162.8,306.9 M167.6,310.7 L164.1,306.3 M168.8,310.1 L165.3,305.7 M170.1,309.5 L166.6,305.1 M171.4,308.9 L167.9,304.4 M172.6,308.3 L169.1,303.8"/>
<ellipse class="f" cx="158.5" cy="312.1" rx="3.5" ry="6.5" transform="rotate(-26.1 158.5 312.1)"/>
<path class="f" style="stroke-width:1.05" d="M150.9,314.1 L151.2,309.3 L154.4,307.7 L157.9,307.7 L161.3,312.5 L161,317.3 L157.8,318.9 L154.3,318.9 Z"/>
<path class="l" d="M157.8,318.9 L158,314.1 L154.7,309.3 L151.2,309.3 L150.9,314.1 L154.3,318.9 Z"/>
<path class="l" style="stroke-width:.6" d="M157.8,318.9 L161,317.3 M158,314.1 L161.3,312.5 M154.7,309.3 L157.9,307.7"/>
<path class="f" d="M196.2,436.5 L219.1,424.5 Q219.8,421.5 216.9,420.4 L194,432.5 Z"/>
<path class="l" style="stroke-width:.45;stroke:#555" d="M202.1,433.2 L199,430 M203.2,432.6 L200.2,429.5 M204.3,432 L201.3,428.9 M205.4,431.4 L202.4,428.3 M206.6,430.9 L203.5,427.7 M207.7,430.3 L204.7,427.1 M208.8,429.7 L205.8,426.5 M209.9,429.1 L206.9,425.9 M211.1,428.5 L208,425.3 M212.2,427.9 L209.2,424.7 M213.3,427.3 L210.3,424.1 M214.4,426.7 L211.4,423.5 M215.6,426.1 L212.5,422.9 M216.7,425.5 L213.7,422.3 M217.8,424.9 L214.8,421.7 M218.9,424.3 L215.9,421.1"/>
<ellipse class="f" cx="195.4" cy="434.3" rx="2.8" ry="5.3" transform="rotate(-27.8 195.4 434.3)"/>
<path class="f" style="stroke-width:1.05" d="M189.3,436.2 L189.3,432.2 L191.9,430.8 L194.8,430.7 L197.7,434.6 L197.6,438.5 L195,439.9 L192.1,440 Z"/>
<path class="l" d="M195,439.9 L195.1,436 L192.2,432.1 L189.3,432.2 L189.3,436.2 L192.1,440 Z"/>
<path class="l" style="stroke-width:.6" d="M195,439.9 L197.6,438.5 M195.1,436 L197.7,434.6 M192.2,432.1 L194.8,430.7"/>
<text class="t" x="87.5" y="247.6">2</text>
<path class="lead" d="M98.1,246.5 L132.1,257.8"/>
<path d="M89.6,309.4 L89.6,316.7 M89.8,309.7 L87.6,311.4" style="fill:none;stroke:#555;stroke-width:1"/><text class="t" x="91.8" y="316.7">5</text>
<path class="lead" d="M98.1,289.8 L94.7,305.4"/>
<path d="M153,337.8 L153,345 M153.2,338 L151,339.7" style="fill:none;stroke:#555;stroke-width:1"/><path d="M158.6,337.8 L158.6,345 M158.8,338 L156.6,339.7" style="fill:none;stroke:#555;stroke-width:1"/>
<path class="lead" d="M158.1,319 L157,335.8"/>
<text class="t" x="87.5" y="380.9">4</text>
<path class="lead" d="M98.5,377 L127.5,377"/>
<path d="M90.6,406.8 L90.6,414 M90.8,407 L88.6,408.7" style="fill:none;stroke:#555;stroke-width:1"/>
<path class="lead" d="M98.5,409.2 L112.5,407.3"/>
<path d="M188.4,402.9 L188.4,410.1 M188.6,403.1 L186.4,404.8" style="fill:none;stroke:#555;stroke-width:1"/><text class="t" x="190.6" y="410.1">3</text>
<path class="lead" d="M187,384.9 L188.3,399.4"/>
<path d="M190,464.8 L190,472 M190.2,465 L188,466.7" style="fill:none;stroke:#555;stroke-width:1"/><text class="t" x="192.2" y="472">0</text>
<path class="lead" d="M194,440.8 L194,461.5"/>
<text class="t" x="186.8" y="190.9">7</text>
<path class="lead" d="M194.5,193.3 L209.3,210.5"/>
<g id="rod16">
<path class="f" d="M287,216.5 C289,214.5 292,215 294,217.5 L298,220 L303,218 L310,213 L312,208 L311.5,203 C313,200.5 316,200 318,202 L320,205.5 L326,203 L333,201.5 L343,200.5 L350,200 L358,197.5 L356,203 L340,212 L325,220 L310,228 L300,232.5 L294,231 L291,228 L289,224 Z"/>
<circle class="l" cx="290.9" cy="220.3" r="2.8"/>
<path class="l" d="M311.5,203 C312.5,206 315,207 318,205.5"/>
<path class="l" d="M296,225 L299,229 M292,224 C294,222 297,222 298,225 M306,217 L309,220 M322,208 L324,211"/>
<path class="l" d="M320,205.5 L330,203.5 L345,203 L357,199"/>
<path class="f" d="M357.9,195.9 L302.2,230.7 L294.4,235 L284.8,237.6 L272.6,243.7 L273.5,247.2 L283.1,242 L292.6,240.2 L298.7,236.8 L363.1,197.6 Z"/>
<path class="l" style="stroke-width:.5" d="M359,197.2 L300,234"/>
<path class="f" d="M268,243 L275,240.5 L278,243 L279.5,247.5 L275,251 L268,252 Z"/>
<path class="f" d="M257,246.3 L269.1,243.7 C272,244 273.5,247 272.6,251.5 L263.9,257.6 Z"/>
<ellipse class="f" cx="257.2" cy="254" rx="5" ry="7.3" transform="rotate(-15 257.2 254)"/>
<ellipse class="l" cx="257.3" cy="254.2" rx="3.4" ry="5.4" transform="rotate(-15 257.3 254.2)"/>
<circle class="k" cx="256.8" cy="255" r="0.9"/>
<path class="f" d="M357,193 L361,188 L366,184 L368.3,182 L373,183 L375,192 L371.8,195 L365,198.5 L360,198.5 Z"/>
<path class="l" d="M361.3,187.2 L364,190 L364,196 M366,184 L369,187 L370,193"/>
<ellipse class="f" cx="374" cy="188" rx="5.5" ry="7.8" transform="rotate(15 374 188)"/>
<ellipse class="l" cx="374.6" cy="187.5" rx="3.2" ry="5.2" transform="rotate(15 374.6 187.5)"/>
</g>
<g id="b8">
<path class="f" d="M273.5,204.5 L281,216.8 Q283.5,219.5 286.5,216.2 L278.7,203 Z"/>
<path class="l" style="stroke-width:.45;stroke:#555" d="M276.5,209.5 L280.5,207.5 M277.3,210.8 L281.3,208.8 M278.1,212.1 L282.1,210.1 M278.9,213.4 L282.9,211.4 M279.7,214.7 L283.7,212.7 M280.5,216 L284.5,214"/>
<path class="f" style="stroke-width:1" d="M270.3,200.5 L274,198.3 L279.5,198.5 L281,201 L281,203.8 L276,206 L271,205 Z"/>
<path class="l" d="M270.5,201.5 L275,200 L280.5,200.8 M274.5,200 L276,205.8"/>
</g>
<g id="s12a">
<path class="f" d="M256.8,213.2 L263.5,209.3 L264.6,211.3 L257.9,215.2 Z"/>
<path class="l" style="stroke-width:.45" d="M258.5,212.3 L259.5,214.2 M260,211.4 L261,213.3 M261.5,210.5 L262.5,212.4"/>
<ellipse class="f" style="stroke-width:1.1" cx="263.8" cy="210.3" rx="1.3" ry="2.6" transform="rotate(-30 263.8 210.3)"/>
</g>
<g id="w17a">
<ellipse class="f" style="stroke-width:1" cx="250.3" cy="217.5" rx="4" ry="3.4" transform="rotate(-20 250.3 217.5)"/>
<circle class="l" cx="249.5" cy="217.8" r="0.8"/>
</g>
<g id="s12b">
<path class="f" d="M421.5,116.8 L429.3,112.8 L430.3,114.8 L422.5,118.8 Z"/>
<path class="l" style="stroke-width:.45" d="M423.5,115.8 L424.4,117.7 M425,115 L425.9,117 M426.5,114.3 L427.4,116.2 M428,113.5 L428.9,115.4"/>
<ellipse class="f" style="stroke-width:1.1" cx="421.2" cy="118.3" rx="1.3" ry="2.6" transform="rotate(-28 421.2 118.3)"/>
</g>
<g id="w17b">
<ellipse class="f" style="stroke-width:1" cx="435.1" cy="109.8" rx="4" ry="4.7" transform="rotate(-10 435.1 109.8)"/>
<circle class="l" cx="434.6" cy="110" r="0.8"/>
</g>
<path d="M242,161.3 L242,168.6 M242.2,161.6 L240,163.3" style="fill:none;stroke:#555;stroke-width:1"/><text class="t" x="244.2" y="168.6">2</text>
<path class="lead" d="M247.1,172.6 L261.5,207.9"/>
<path d="M222.8,170.2 L222.8,177.4 M223,170.4 L220.8,172.1" style="fill:none;stroke:#555;stroke-width:1"/><text class="t" x="225" y="177.4">7</text>
<path class="lead" d="M228.6,181.5 L247.9,213.5"/>
<text class="t" x="255.6" y="236">8</text>
<path class="lead" d="M265.5,226.3 L278.3,215.1"/>
<path d="M338.2,241.8 L338.2,249 M338.4,242 L336.2,243.7" style="fill:none;stroke:#555;stroke-width:1"/><text class="t" x="340.4" y="249">6</text>
<path class="lead" d="M328.3,222.8 L337,237.6"/>
<text class="t" x="413.5" y="52.8">6</text>
<path class="lead" d="M423.2,53.7 L441.1,67.3"/>
<path d="M394.8,74.5 L394.8,81.7 M395,74.7 L392.8,76.4" style="fill:none;stroke:#555;stroke-width:1"/><text class="t" x="397" y="81.7">2</text>
<path class="lead" d="M401.1,84.3 L420.7,116.5"/>
<path d="M415.2,74.5 L415.2,81.7 M415.4,74.7 L413.2,76.4" style="fill:none;stroke:#555;stroke-width:1"/><text class="t" x="417.4" y="81.7">7</text>
<path class="lead" d="M420.7,85.1 L432.6,107.2"/>
<g id="pegL">
<path class="f" style="fill:#fff" d="M281.6,323.6 L298.8,314.6 A2.5,6 -27.7 0 1 293.2,303.9 L276,313 A2.5,6 -27.7 0 1 281.6,323.6 Z"/>
<ellipse class="l" cx="296" cy="309.2" rx="2.5" ry="6" transform="rotate(-27.7 296 309.2)"/>
<path class="l" style="stroke-width:0.45;stroke:#555" d="M282.9,322.6 Q282.3,316.5 277.6,312.5 M284.1,322 Q283.4,315.9 278.8,311.9 M285.3,321.3 Q284.6,315.2 280,311.2 M286.5,320.7 Q285.8,314.6 281.2,310.6 M287.7,320.1 Q287,314 282.4,310 M288.9,319.4 Q288.2,313.3 283.6,309.4 M290,318.8 Q289.4,312.7 284.7,308.7 M291.2,318.2 Q290.6,312.1 285.9,308.1 M292.4,317.6 Q291.8,311.5 287.1,307.5 M293.6,316.9 Q293,310.8 288.3,306.9 M294.8,316.3 Q294.2,310.2 289.5,306.2 M296,315.7 Q295.4,309.6 290.7,305.6 M297.2,315.1 Q296.6,309 291.9,305"/>
<path class="f" style="fill:#fff" d="M259.4,335.1 L281.9,323.3 A2.5,5.9 -27.7 0 1 276.5,312.9 L253.9,324.7 A2.5,5.9 -27.7 0 1 259.4,335.1 Z"/>
<path class="f" style="fill:#fff" d="M259.3,338.2 L264.2,335.7 A3.6,8.6 -27.7 0 1 256.2,320.5 L251.3,323 A3.6,8.6 -27.7 0 1 259.3,338.2 Z"/>
<ellipse class="l" cx="255.3" cy="330.6" rx="3.6" ry="8.6" transform="rotate(-27.7 255.3 330.6)"/>
<path class="f" style="fill:#fff" d="M249.6,342.3 L259.3,337.2 A3.2,7.7 -27.7 0 1 252.2,323.6 L242.4,328.7 A3.2,7.7 -27.7 0 1 249.6,342.3 Z"/>
<ellipse class="l" cx="246" cy="335.5" rx="3.2" ry="7.7" transform="rotate(-27.7 246 335.5)"/>
<ellipse class="l" cx="246.6" cy="335.2" rx="2.3" ry="5.6" transform="rotate(-27.7 246.6 335.2)"/>
</g>
<g id="pegR">
<path class="f" style="fill:#fff" d="M449.7,229.7 L458.6,225.1 A3.8,9 -27.2 0 1 450.3,209.1 L441.4,213.7 A3.8,9 -27.2 0 1 449.7,229.7 Z"/>
<ellipse class="l" cx="454.5" cy="217.1" rx="3.8" ry="9" transform="rotate(-27.2 454.5 217.1)"/>
<path class="f" style="fill:#fff" d="M446.3,230.7 L450.3,228.7 A3.5,8.4 -27.2 0 1 442.6,213.7 L438.6,215.8 A3.5,8.4 -27.2 0 1 446.3,230.7 Z"/>
<path class="f" style="fill:#fff" d="M423.4,241.9 L446.5,230 A3.3,7.8 -27.2 0 1 439.3,216.1 L416.2,228 A3.3,7.8 -27.2 0 1 423.4,241.9 Z"/>
<path class="f" style="fill:#fff" d="M420.3,242.5 L424.8,240.3 A2.9,7 -27.2 0 1 418.4,227.8 L413.9,230.1 A2.9,7 -27.2 0 1 420.3,242.5 Z"/>
<path class="f" style="fill:#fff" d="M404.7,249.3 L420.7,241 A2.4,5.8 -27.2 0 1 415.3,230.7 L399.3,238.9 A2.4,5.8 -27.2 0 1 404.7,249.3 Z"/>
<ellipse class="l" cx="402" cy="244.1" rx="2.4" ry="5.8" transform="rotate(-27.2 402 244.1)"/>
<path class="l" style="stroke-width:0.45;stroke:#555" d="M406,248.2 Q405.4,242.3 401,238.4 M407.2,247.6 Q406.6,241.7 402.1,237.8 M408.4,247 Q407.8,241.1 403.3,237.2 M409.6,246.4 Q409,240.5 404.5,236.6 M410.7,245.8 Q410.2,239.9 405.7,236 M411.9,245.2 Q411.4,239.3 406.9,235.4 M413.1,244.6 Q412.5,238.7 408.1,234.8 M414.3,244 Q413.7,238.1 409.3,234.2 M415.5,243.4 Q414.9,237.5 410.4,233.6 M416.7,242.7 Q416.1,236.8 411.6,232.9 M417.9,242.1 Q417.3,236.2 412.8,232.3 M419,241.5 Q418.5,235.6 414,231.7"/>
<ellipse class="l" cx="402" cy="244.1" rx="1.5" ry="3.6" transform="rotate(-27.5 402 244.1)"/>
</g>

<g id="brL">
<path class="f" d="M265.4,376.4 L268.2,372.6 L272.9,371.7 L277.6,373.6 L283.3,371.7 L285.2,366 L289,363.2 L293.7,363.2 L297.5,360.4 L301.2,357.5 L305.9,358.5 L309.7,363.2 L311.6,368.9 L313.5,373.6 L320.1,374.5 L325.8,373.6 L331.4,370.8 L332.4,367 L338,362.3 L344.6,360.4 L349.3,362.3 L352.2,367.9 L350.3,372.6 L346.5,376.4 L344.6,380.2 L347.5,384 L351.2,387.7 L354.1,392.5 L355,399.1 L356.9,406.6 L360.7,414.2 L363.5,419.8 L366.3,425.5 L368.2,433 L370.1,440.6 L368.2,446.2 L363.5,447.2 L359.7,444.3 L357.8,438.7 L353.1,434 L347.5,430.2 L339.9,427.4 L334.2,425.5 L330.5,427.4 L328.6,434.9 L328.6,440.6 L324.8,443.4 L320.1,443.4 L315.4,439.6 L311.6,438.7 L305.9,438.7 L299.3,435.8 L295.6,431.1 L294.6,425.5 L291.8,422.6 L288,419.8 L283.3,417 L277.6,417.9 L271,417 L265.4,415.1 L262.5,410.4 L262.5,404.7 L266.3,401.9 L271,397.2 L273.9,393.4 L274.8,387.7 L272,384 L267.3,382.1 L265.4,379.2 Z"/>
<circle class="l" cx="270.1" cy="378.8" r="1.8"/>
<path class="l" d="M283.3,371.7 L284,378 L288,384 L294,382 L300,377 L304,372 L311.6,368.9 M289,363.2 C287,368 289,375 295,374 C298,373 298,366 293.7,363.2"/>
<circle class="l" cx="291.8" cy="372.4" r="2.4"/>
<path class="l" d="M297.5,360.4 C296,364 298,370 303,370 C307,369.5 308,363 305.9,358.5"/>
<circle class="l" cx="304.1" cy="366" r="2.3"/>
<circle class="l" style="stroke-width:1.1" cx="289" cy="380.2" r="2.2"/>
<path class="l" d="M319.2,378.3 L332.4,421.7 M313.5,373.6 L319.2,378.3 L346.5,376.4"/>
<path class="l" d="M338,362.3 C334,367 336,377 341,378 C346,378 349,371 346,364"/>
<circle class="l" cx="336.4" cy="373.4" r="3"/>
<circle class="l" cx="336.4" cy="373.4" r="1.5"/>
<path class="l" d="M344.6,380.2 L346,392 L343,402 L347.5,410 L352,418"/>
<circle class="l" cx="339.9" cy="396.2" r="3.2"/>
<circle class="l" cx="339.9" cy="396.2" r="1.6"/>
<path class="l" d="M295.6,385.8 L311.6,378.3 L313.5,397.2 Z M300,386 L311,382 L311.5,394"/>
<path class="l" d="M272,398.1 L311.6,385.8 M262.5,404.7 L279,401 L295,398 L305,398 L313.5,397.2 M265.4,415.1 L285,410 L300,405 L314,402"/>
<circle class="l" style="stroke-width:1.2" cx="279.5" cy="405.5" r="3.4"/>
<circle class="l" cx="279.5" cy="405.5" r="1.6"/>
<circle class="l" cx="269.2" cy="410.4" r="1.9"/>
<circle class="l" style="stroke-width:1.2" cx="291.8" cy="419.8" r="2.4"/>
<circle class="l" style="stroke-width:1.2" cx="315.4" cy="417" r="2.4"/>
<path class="l" d="M318,408 L320,416 L324,424 M310,405 L312,420"/>
<ellipse class="f" cx="300.3" cy="429.2" rx="6.6" ry="7" transform="rotate(-20 300.3 429.2)"/>
<ellipse class="l" style="stroke-width:1.2" cx="300.8" cy="429" rx="3.8" ry="4.3" transform="rotate(-20 300.8 429)"/>
<path class="l" d="M306,425 L314,430 L320,434 M313,422 L317,436 M318,423 L322,438 M326,427 L330.5,427.4"/>
<circle class="l" cx="322" cy="439.4" r="1.9"/>
<circle class="l" cx="361.6" cy="442.6" r="2"/>
<path class="l" d="M353.1,434 L357,426 L361,424 M349,420 L352,428 M341,424 L345,410"/>
</g>

<g id="brR">
<path class="f" d="M407.5,259.7 C408,254 410,251 412,250.7 L417.6,251.8 L421,257.5 L423.3,263.1 L429,260.8 L436.9,258.6 L443.7,258.6 L448.2,263.1 L449.3,268.8 L445.9,274.4 L441.4,279 L439.1,284.6 L443.7,285.8 L448.2,289.1 L450.5,293.7 L449.3,299.3 L451.6,303.9 L462.9,310.7 L474.2,317.4 L483.3,322 L486.7,317.4 L490.1,310.7 L494.6,303.9 L500.3,300.5 L504.8,301.6 L507.1,307.3 L506.8,315 L505.7,326.8 L501.2,333.6 L504,337 L505.3,345 L504,353 L499,357.4 L495.5,360.8 L494.9,364.2 L491,367 L485.3,366.4 L477.4,360.8 L466,352.8 L454.7,346 L446.8,340.4 L445.9,333.3 L442.5,326.5 L433.5,324.2 L426.7,327.6 L419.9,331 L412,332.2 L405.2,329.9 L401.8,325.4 L401.8,318.6 L405.2,310.7 L407.5,300.5 L410.8,292.5 L413.1,284.6 L409.7,281.2 L404.1,279 L400.7,274.4 L400.7,268.8 L404.1,265.4 Z"/>
<ellipse class="l" cx="413.3" cy="262" rx="2.8" ry="3.8" transform="rotate(-20 413.3 262)"/>
<path class="l" d="M407.5,259.7 C406,265 409,269 413,268.5 M421,257.5 C423,262 421,268 417,269"/>
<ellipse class="f" cx="404.3" cy="272.5" rx="3.5" ry="5.6" transform="rotate(-25 404.3 272.5)"/>
<path class="l" d="M423.3,263.1 L424,275 L418,282 L413.1,284.6 M441.4,279 L436,283 L430,287 L424,287 M423,275 L432,279"/>
<path class="f" d="M424.4,283 C425,279 429,278 431,281 L448,289 C450,292 449,296 446,297 L438,312 L434,318 C431,320 427,318 428,314 L436,296 L427,290 Z"/>
<path class="l" d="M431,284 L444,292 L434,314"/>
<path class="l" d="M413.1,284.6 L416,292 L412,305 L410,318 M416,292 L427,290 M419,297 L418,310 M424,300 L422,312"/>
<path class="l" d="M449.3,299.3 L445,310 L440,318 L433.5,324.2 M451.6,303.9 L452,315 L458,322 L470,326 L483.3,322 M455,318 L460,330 L468,335 L478,334 L490.1,340.1"/>
<path class="l" d="M451.3,322.3 L454.7,344.9 M454.7,323.4 L466,350.6 M462,340 L468,342"/>
<path class="l" d="M470,330 L486,323 M463,318 L472,320"/>
<ellipse class="f" cx="405.5" cy="323" rx="4.6" ry="6.6" transform="rotate(-20 405.5 323)"/>
<ellipse class="l" cx="405.7" cy="323" rx="2.9" ry="4.3" transform="rotate(-20 405.7 323)"/>
<path class="l" d="M405.2,316.4 L412,314 L419,318 L422,324 L419.9,331"/>
<circle class="l" cx="500.8" cy="305.5" r="1.6"/>
<ellipse class="f" cx="498" cy="349.2" rx="7.2" ry="8"/>
<ellipse class="l" cx="494.6" cy="350.6" rx="3" ry="5.4"/>
<path class="l" style="stroke-width:1.1" d="M497,343 C500,344 501.5,349 500,355"/>
<path class="l" d="M471.7,348.3 L483,337 M473,350 L484.5,339 M478.5,344.9 L491,356"/>
<path class="l" d="M495.7,326.5 L493.5,334.4 L490,337"/>
</g>

<path class="f" d="M560.6,291.1 L546.8,298 Q545.9,301.1 548.9,302.3 L562.8,295.4 Z"/>
<path class="l" style="stroke-width:.45;stroke:#555" d="M555.6,293.8 L558.7,297.2 M554.4,294.4 L557.4,297.8 M553.2,295.1 L556.2,298.5 M551.9,295.7 L555,299.1 M550.7,296.3 L553.7,299.7 M549.4,296.9 L552.5,300.3 M548.2,297.5 L551.2,300.9 M547,298.2 L550,301.6"/>
<ellipse class="f" cx="561.4" cy="293.4" rx="2.8" ry="5.3" transform="rotate(153.4 561.4 293.4)"/>
<path class="f" style="stroke-width:1.05" d="M559.1,293.1 L559.3,289.2 L561.9,287.9 L564.8,287.8 L567.5,291.7 L567.4,295.7 L564.8,297 L561.9,297 Z"/>
<path class="l" d="M561.9,287.9 L561.7,291.8 L564.5,295.7 L567.4,295.7 L567.5,291.7 L564.8,287.8 Z"/>
<path class="l" style="stroke-width:.6" d="M561.9,287.9 L559.3,289.2 M561.7,291.8 L559.1,293.1 M564.5,295.7 L561.9,297"/>
<text class="t" x="598.5" y="294.5">9</text>
<path class="lead" d="M567.7,293.6 L593.2,291.7"/>
</svg>
</body></html>
